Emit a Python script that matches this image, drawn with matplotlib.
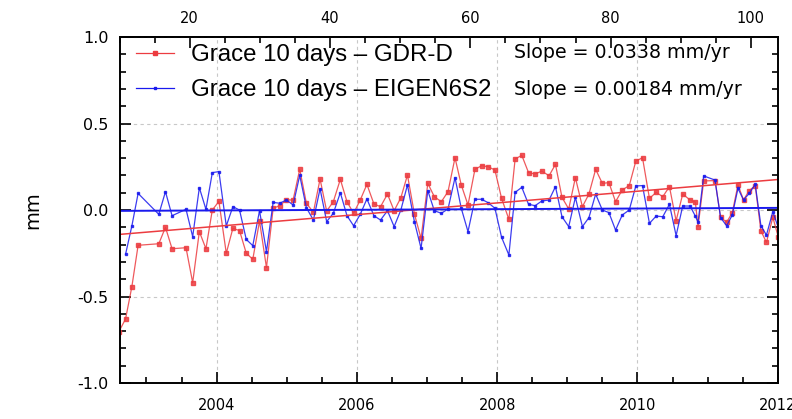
import numpy as np
import matplotlib
matplotlib.use('Agg')
import matplotlib.pyplot as plt
from matplotlib.ticker import MultipleLocator
from matplotlib.lines import Line2D

plt.rcParams['axes.unicode_minus'] = False

# decimal years of the solutions
years = [2002.607, 2002.702, 2002.792, 2002.881, 2003.176, 2003.271, 2003.365,
         2003.564, 2003.659, 2003.754, 2003.848, 2003.939, 2004.033, 2004.138,
         2004.232, 2004.327, 2004.423, 2004.516, 2004.612, 2004.711, 2004.806,
         2004.900, 2004.996, 2005.091, 2005.185, 2005.280, 2005.380, 2005.475,
         2005.569, 2005.664, 2005.764, 2005.859, 2005.953, 2006.048, 2006.143,
         2006.243, 2006.337, 2006.436, 2006.531, 2006.627, 2006.721, 2006.820,
         2006.915, 2007.011, 2007.104, 2007.204, 2007.299, 2007.399, 2007.488,
         2007.584, 2007.683, 2007.778, 2007.872, 2007.968, 2008.063, 2008.167,
         2008.256, 2008.351, 2008.447, 2008.541, 2008.636, 2008.740, 2008.831,
         2008.924, 2009.020, 2009.115, 2009.215, 2009.308, 2009.404, 2009.499,
         2009.593, 2009.688, 2009.783, 2009.883, 2009.977, 2010.072, 2010.171,
         2010.267, 2010.361, 2010.456, 2010.551, 2010.645, 2010.750, 2010.825,
         2010.864, 2010.944, 2011.106, 2011.185, 2011.271, 2011.352, 2011.433,
         2011.512, 2011.593, 2011.679, 2011.760, 2011.839, 2011.930, 2012.006]

gdrd = [-0.703, -0.630, -0.443, -0.204, -0.195, -0.100, -0.224, -0.218, -0.420,
        -0.125, -0.224, 0.000, 0.050, -0.250, -0.106, -0.119, -0.250, -0.285,
        -0.064, -0.333, 0.010, 0.025, 0.058, 0.058, 0.235, 0.039, -0.013, 0.179,
        -0.006, 0.048, 0.177, 0.048, -0.019, 0.058, 0.148, 0.035, 0.019, 0.092,
        -0.004, 0.071, 0.202, -0.023, -0.164, 0.154, 0.077, 0.048, 0.106, 0.302,
        0.145, 0.029, 0.235, 0.256, 0.250, 0.231, 0.067, -0.054, 0.295, 0.316,
        0.216, 0.208, 0.225, 0.198, 0.264, 0.073, 0.006, 0.187, 0.019, 0.092,
        0.235, 0.154, 0.158, 0.048, 0.116, 0.141, 0.283, 0.302, 0.067, 0.102,
        0.077, 0.135, -0.062, 0.092, 0.058, 0.046, -0.096, 0.168, 0.170, -0.042,
        -0.071, -0.015, 0.145, 0.058, 0.112, 0.141, -0.121, -0.187, -0.042, -0.154]

# EIGEN6S2 series has no value for the first epoch
eigen = [-0.256, -0.092, 0.096, -0.025, 0.106, -0.033, 0.004, -0.154, 0.129,
         0.004, 0.216, 0.222, -0.092, 0.019, 0.000, -0.170, -0.206, -0.004,
         -0.241, 0.044, 0.039, 0.058, 0.029, 0.200, 0.013, -0.058, 0.123, -0.067,
         -0.019, 0.100, -0.033, -0.091, -0.025, 0.064, -0.033, -0.058, -0.004,
         -0.096, 0.000, 0.145, -0.067, -0.222, 0.112, -0.004, -0.019, 0.006,
         0.187, 0.010, -0.125, 0.062, 0.062, 0.042, 0.010, -0.158, -0.260, 0.102,
         0.131, 0.033, 0.025, 0.052, 0.058, 0.135, -0.039, -0.096, 0.073, -0.096,
         -0.044, 0.092, 0.000, -0.015, -0.116, -0.029, 0.000, 0.139, 0.141,
         -0.077, -0.035, -0.039, 0.033, -0.148, 0.023, 0.023, -0.035, -0.071,
         0.197, 0.173, -0.044, -0.091, -0.029, 0.125, 0.058, 0.096, 0.148,
         -0.091, -0.145, -0.010, -0.100]
eigen_years = years[1:]

# linear trends: slope (mm/yr) and value at t_ref
t_ref = 2002.617
slope_gdrd, off_gdrd = 0.0338, -0.141
slope_eigen, off_eigen = 0.00184, -0.005

labels = ['Grace 10 days \u2013 GDR-D', 'Grace 10 days \u2013 EIGEN6S2']
xlim = (2002.617, 2012.0)

red = '#ec3c40'
blue = '#1a1aee'

fig = plt.figure(figsize=(7.92, 4.19), dpi=100)
ax = fig.add_axes([0.151, 0.0859, 0.831, 0.8258])

ax.plot(years, gdrd, '-s', color=red, lw=0.9, ms=2.6, mec=red, alpha=0.85)
ax.plot(eigen_years, eigen, '-s', color=blue, lw=0.9, ms=2.0, mec=blue, alpha=0.85)

tl = np.array(xlim)
ax.plot(tl, off_gdrd + slope_gdrd * (tl - t_ref), color=red, lw=1.1)
ax.plot(tl, off_eigen + slope_eigen * (tl - t_ref), color=blue, lw=1.4)

ax.set_xlim(*xlim)
ax.set_ylim(-1.0, 1.0)
ax.xaxis.set_major_locator(MultipleLocator(2))
ax.xaxis.set_minor_locator(MultipleLocator(0.5))
ax.yaxis.set_major_locator(MultipleLocator(0.5))
ax.yaxis.set_minor_locator(MultipleLocator(0.1))
ax.yaxis.set_major_formatter(plt.FormatStrFormatter('%.1f'))
ax.tick_params(which='both', direction='in', right=True, labelsize=10.5,
               width=1.2)
ax.tick_params(which='major', length=8)
ax.tick_params(which='minor', length=4)
ax.tick_params(axis='x', which='major', pad=11)
ax.tick_params(axis='y', which='major', pad=8, labelsize=11.5)
ax.grid(True, which='major', ls=(0, (3, 3)), color='#c8c8c8', lw=0.8)
for s in ax.spines.values():
    s.set_linewidth(1.4)

top = ax.secondary_xaxis('top', functions=(lambda t: (t - 2001.617) * 10,
                                           lambda i: i / 10 + 2001.617))
top.xaxis.set_major_locator(MultipleLocator(20))
top.xaxis.set_minor_locator(MultipleLocator(5))
top.tick_params(which='both', direction='in', labelsize=10.5, width=1.2)
top.tick_params(which='major', length=8, pad=8)
top.tick_params(which='minor', length=4)
top.spines['top'].set_linewidth(1.4)

ax.set_ylabel('mm', fontsize=14, labelpad=25)

handles = [Line2D([], [], color=red, marker='s', ms=2.6, lw=0.9),
           Line2D([], [], color=blue, marker='s', ms=2.0, lw=0.9)]
ax.legend(handles, labels, loc='upper left', bbox_to_anchor=(-0.008, 1.042),
          frameon=False, handlelength=1.6, handletextpad=0.7,
          labelspacing=0.55, prop={'family': 'Liberation Sans', 'size': 17.3})

ax.text(0.6, 0.956, 'Slope = 0.0338 mm/yr', transform=ax.transAxes,
        fontsize=13.7, va='center')
ax.text(0.6, 0.848, 'Slope = 0.00184 mm/yr', transform=ax.transAxes,
        fontsize=13.7, va='center')

fig.savefig('out.png', dpi=100)
